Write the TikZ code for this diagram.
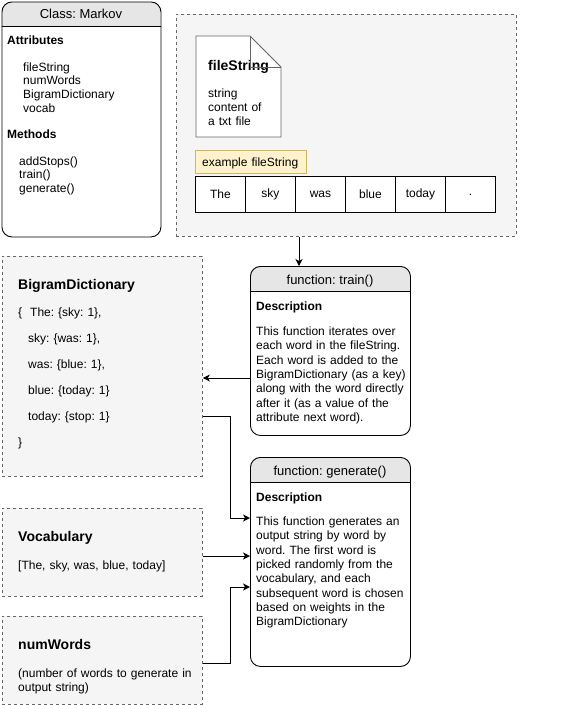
\documentclass[tikz,border=0pt]{standalone}
\usepackage{fontspec}
\setmainfont{Liberation Sans}
\usetikzlibrary{arrows.meta,calc}
\frenchspacing
\definecolor{panelfill}{HTML}{F5F5F5}
\definecolor{panelline}{HTML}{666666}
\definecolor{hdrfill}{HTML}{E6E6E6}
\definecolor{notefill}{HTML}{FFF2CC}
\definecolor{noteline}{HTML}{D6B656}
\tikzset{
  panelbox/.style={draw=panelline, fill=panelfill, dash pattern=on 3pt off 3pt, line width=0.8pt, inner sep=0pt, anchor=north west},
  roundbox/.style={draw=black, line width=0.9pt, rounded corners=10pt, inner sep=0pt, anchor=north west},
  cellbox/.style={draw=black, fill=white, line width=0.9pt, minimum width=50pt, minimum height=36pt, inner sep=0pt, anchor=north west, font=\fontsize{12}{14}\selectfont},
  txt/.style={inner sep=0pt, anchor=base west, align=left, text width=185pt, font=\fontsize{12}{14.3}\selectfont},
  ttl/.style={inner sep=0pt, anchor=base west, font=\fontsize{14}{16}\selectfont\bfseries},
  subttl/.style={inner sep=0pt, anchor=base west, font=\fontsize{12}{14}\selectfont\bfseries},
  hdrtxt/.style={inner sep=0pt, anchor=base, font=\fontsize{13}{15}\selectfont},
  arr/.style={draw=black, line width=0.9pt, -{Stealth[length=7pt,width=7pt,inset=2pt]}},
  conn/.style={draw=black, line width=0.9pt},
}
\begin{document}
\begin{tikzpicture}[x=1pt,y=-1pt]
\useasboundingbox (0,0) rectangle (583,705);
\fill[white] (0,0) rectangle (583,705);

% ---------- Class: Markov ----------
\begin{scope}
  \clip[rounded corners=10pt] (1.5,1.5) rectangle (160.5,236.5);
  \fill[hdrfill] (1.5,1.5) rectangle (160.5,26);
\end{scope}
\node[roundbox, minimum width=159pt, minimum height=235pt] (cls) at (1.5,1.5) {};
\draw[conn] (1.5,26) -- (160.5,26);
\node[hdrtxt] (clsname) at (81,18.5) {Class: Markov};
\node[subttl] (attrs) at (7,44.5) {Attributes};
\node[txt, text width=130pt, font=\fontsize{12}{13.8}\selectfont] (attrlist) at (23,71) {fileString\\numWords\\BigramDictionary\\vocab};
\node[subttl] (meths) at (7,138) {Methods};
\node[txt, text width=130pt, font=\fontsize{12}{13.5}\selectfont] (methlist) at (19,165) {addStops()\\train()\\generate()};

% ---------- fileString panel ----------
\node[panelbox, minimum width=340pt, minimum height=222pt] (filepanel) at (176,14) {};
\filldraw[fill=white, draw=panelline, line width=0.8pt] (196,36) -- (250,36) -- (281,67) -- (281,137) -- (196,137) -- cycle;
\node[ttl] (doctitle) at (208,70) {fileString};
\draw[draw=panelline, line width=0.8pt] (250,36) -- (250,67) -- (281,67);
\node[txt, text width=70pt, font=\fontsize{12}{14}\selectfont] (doctext) at (208,97.5) {string\\content of\\a txt file};
\node[draw=noteline, fill=notefill, line width=0.8pt, minimum width=111pt, minimum height=23pt, inner sep=0pt, anchor=north west] (note) at (195,150) {};
\node[txt, text width=105pt] (notetext) at (202,166) {example fileString};
\node[cellbox] (w1) at (195,176) {The};
\node[cellbox] (w2) at (245,176) {sky};
\node[cellbox] (w3) at (295,176) {was};
\node[cellbox] (w4) at (345,176) {blue};
\node[cellbox] (w5) at (395,176) {today};
\node[cellbox] (w6) at (445,176) {.};

% ---------- train() ----------
\begin{scope}
  \clip[rounded corners=10pt] (250,266) rectangle (410,435);
  \fill[hdrfill] (250,266) rectangle (410,291);
\end{scope}
\node[roundbox, minimum width=160pt, minimum height=169pt] (train) at (250,266) {};
\draw[conn] (250,291) -- (410,291);
\node[hdrtxt] (trainname) at (330,284) {function: train()};
\node[subttl] (traindesc) at (256,310.5) {Description};
\node[txt, text width=150pt] (traintext) at (256,335.5) {This function iterates over\\each word in the fileString.\\Each word is added to the\\BigramDictionary (as a key)\\along with the word directly\\after it (as a value of the\\attribute next word).};

% ---------- generate() ----------
\begin{scope}
  \clip[rounded corners=10pt] (250,457) rectangle (410,666);
  \fill[hdrfill] (250,457) rectangle (410,482);
\end{scope}
\node[roundbox, minimum width=160pt, minimum height=209pt] (generate) at (250,457) {};
\draw[conn] (250,482) -- (410,482);
\node[hdrtxt] (genname) at (330,475) {function: generate()};
\node[subttl] (gendesc) at (256,501) {Description};
\node[txt, text width=150pt] (gentext) at (256,525.5) {This function generates an\\output string by word by\\word. The first word is\\picked randomly from the\\vocabulary, and each\\subsequent word is chosen\\based on weights in the\\BigramDictionary};

% ---------- BigramDictionary ----------
\node[panelbox, minimum width=200pt, minimum height=220pt] (bigram) at (2,256) {};
\node[ttl] (bigramtitle) at (18,289) {BigramDictionary};
\node[txt, text width=170pt, font=\fontsize{12}{26}\selectfont] (bigramtext) at (18,316.5) {\{\ \ The: \{sky: 1\},\\\hspace*{10pt}sky: \{was: 1\},\\\hspace*{10pt}was: \{blue: 1\},\\\hspace*{10pt}blue: \{today: 1\}\\\hspace*{10pt}today: \{stop: 1\}\\\}};

% ---------- Vocabulary ----------
\node[panelbox, minimum width=200pt, minimum height=88pt] (vocab) at (2,508) {};
\node[ttl] (vocabtitle) at (18,541) {Vocabulary};
\node[txt, text width=180pt] (vocabtext) at (18,569) {[The, sky, was, blue, today]};

% ---------- numWords ----------
\node[panelbox, minimum width=200pt, minimum height=88pt] (numw) at (2,616) {};
\node[ttl] (numwtitle) at (18,649) {numWords};
\node[txt, text width=180pt] (numwtext) at (18,677) {(number of words to generate in\\output string)};

% ---------- connectors ----------
\draw[arr] ([xshift=123pt]filepanel.south west) -- ([xshift=123pt]filepanel.south west |- train.north);
\draw[arr] ([yshift=-112pt]train.north west) -- ([yshift=-112pt]train.north west -| bigram.east);
\draw[arr] ([yshift=-160pt]bigram.north east) -- ++(28pt,0) |- ([yshift=-61pt]generate.north west);
\draw[arr] ([yshift=-48pt]vocab.north east) -- ([yshift=-48pt]vocab.north east -| generate.west);
\draw[arr] ([yshift=-47pt]numw.north east) -- ++(28pt,0) |- ([yshift=-130pt]generate.north west);
\end{tikzpicture}
\end{document}
